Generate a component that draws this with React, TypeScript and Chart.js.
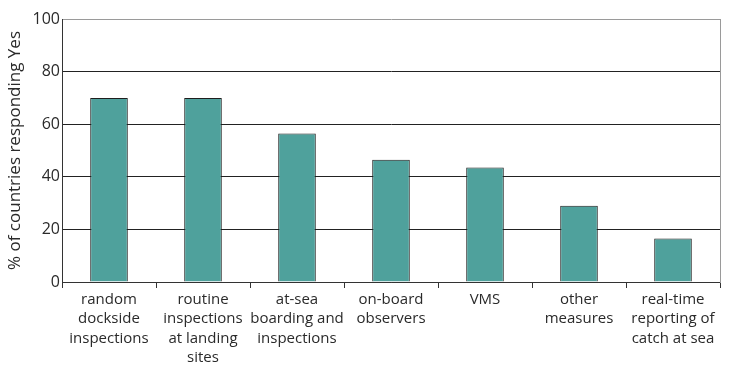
import React, { useEffect, useRef } from "react";
import { Chart, registerables } from "chart.js";

Chart.register(...registerables);

const categories: string[][] = [
  ["random", "dockside", "inspections"],
  ["routine", "inspections", "at landing", "sites"],
  ["at-sea", "boarding and", "inspections"],
  ["on-board", "observers"],
  ["VMS"],
  ["other", "measures"],
  ["real-time", "reporting of", "catch at sea"],
];
const values: number[] = [70, 70, 56.5, 46.5, 43.5, 29, 16.5];
const yTicks: number[] = [0, 20, 40, 60, 80, 100];
const yTitle = "% of countries responding Yes";

const FONT = "'Open Sans', 'Noto Sans', sans-serif";

export default function App() {
  const ref = useRef<HTMLCanvasElement | null>(null);
  useEffect(() => {
    if (!ref.current) return;
    const chart = new Chart(ref.current, {
      type: "bar",
      data: {
        labels: categories,
        datasets: [
          {
            data: values,
            backgroundColor: "#4fa19c",
            borderColor: "#1e1e1e",
            borderWidth: 1,
            barPercentage: 0.4,
            categoryPercentage: 1,
          },
        ],
      },
      options: {
        animation: false,
        responsive: false,
        maintainAspectRatio: false,
        layout: { padding: { top: 19, right: 0, bottom: 0, left: 0 } },
        plugins: { legend: { display: false }, tooltip: { enabled: false } },
        scales: {
          x: {
            grid: {
              offset: true,
              drawOnChartArea: false,
              drawTicks: true,
              tickLength: 6,
              color: "#333",
            },
            border: { color: "#333", width: 1 },
            ticks: {
              color: "#2a2a2a",
              font: { family: FONT, size: 15, lineHeight: 1.29 },
              maxRotation: 0,
              autoSkip: false,
              padding: 2,
            },
            afterFit: (s: any) => {
              s.height = 93;
            },
          },
          y: {
            min: 0,
            max: 100,
            afterBuildTicks: (s: any) => {
              s.ticks = yTicks.map((v) => ({ value: v }));
            },
            grid: {
              drawTicks: false,
              color: (ctx: any) => (ctx.tick && ctx.tick.value === 100 ? "#9a9a9a" : "#222"),
            },
            border: { color: "#333", width: 1 },
            ticks: {
              color: "#2a2a2a",
              font: { family: FONT, size: 16 },
              padding: 2,
            },
            title: {
              display: true,
              text: yTitle,
              color: "#2a2a2a",
              font: { family: FONT, size: 17 },
              padding: { top: 5, bottom: 0 },
            },
            afterFit: (s: any) => {
              s.width = 62;
            },
          },
          y2: {
            position: "right",
            min: 0,
            max: 100,
            grid: { drawOnChartArea: false, drawTicks: false },
            border: { color: "#9a9a9a", width: 1 },
            ticks: { display: false },
            afterFit: (s: any) => {
              s.width = 18;
            },
          },
        },
      },
    });
    return () => chart.destroy();
  }, []);
  return (
    <div style={{ position: "fixed", left: 0, top: 0, width: 738, height: 375, background: "#fff" }}>
      <canvas ref={ref} width={738} height={375} style={{ width: 738, height: 375 }} />
    </div>
  );
}
